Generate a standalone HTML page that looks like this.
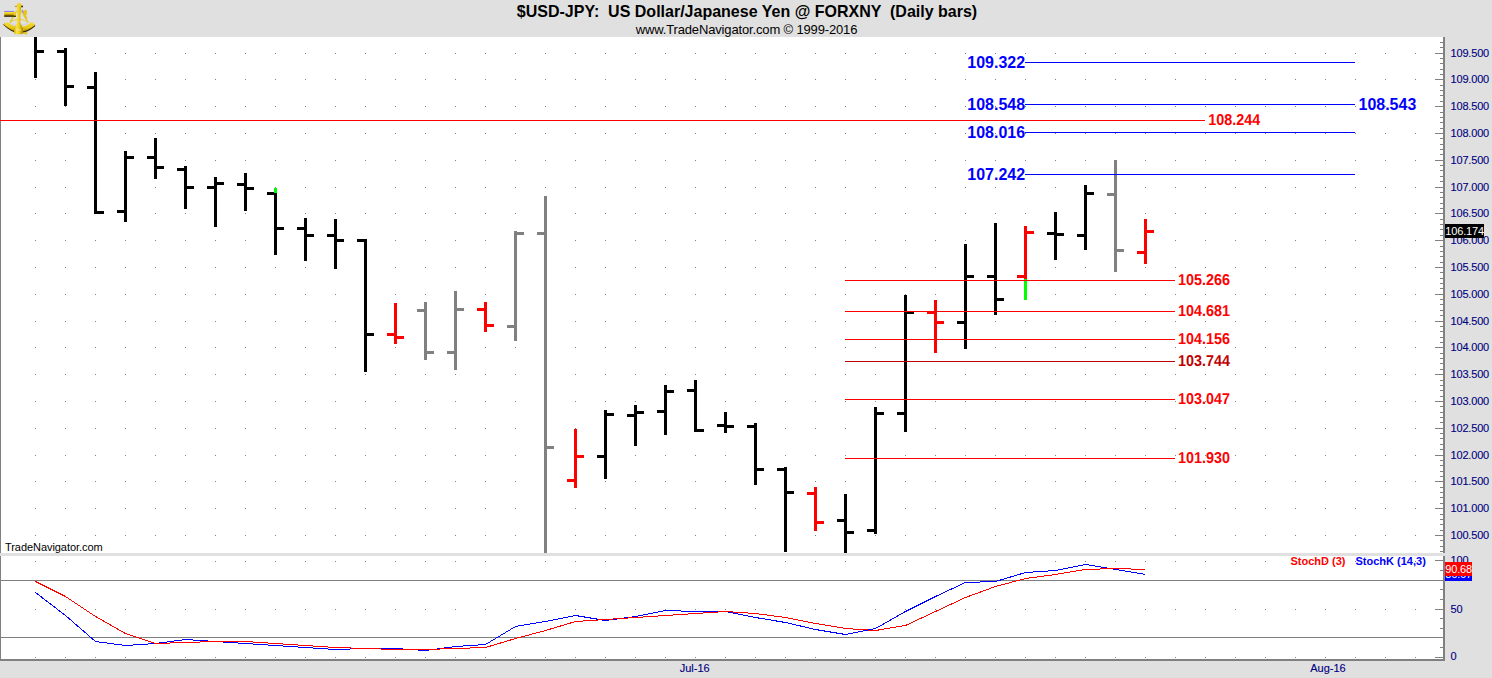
<!DOCTYPE html>
<html><head><meta charset="utf-8"><title>$USD-JPY Daily</title>
<style>
html,body{margin:0;padding:0;background:#e0e0e0;overflow:hidden;}
body{width:1492px;height:678px;position:relative;}
svg{position:absolute;left:0;top:0;display:block;}
svg text{font-family:"Liberation Sans",sans-serif;}
</style></head><body>
<svg width="1492" height="678" viewBox="0 0 1492 678" shape-rendering="crispEdges">
<rect x="0" y="0" width="1492" height="678" fill="#e0e0e0"/>
<rect x="0" y="37" width="1443" height="622" fill="#ffffff"/>
<rect x="0" y="37" width="1" height="622" fill="#808080"/>
<text x="1025.1" y="68" font-size="16.5" fill="#0000ff" text-anchor="end" textLength="57.8" lengthAdjust="spacingAndGlyphs" font-weight="bold" xml:space="preserve">109.322</text>
<text x="1025.1" y="110" font-size="16.5" fill="#0000ff" text-anchor="end" textLength="57.8" lengthAdjust="spacingAndGlyphs" font-weight="bold" xml:space="preserve">108.548</text>
<text x="1025.1" y="138" font-size="16.5" fill="#0000ff" text-anchor="end" textLength="57.8" lengthAdjust="spacingAndGlyphs" font-weight="bold" xml:space="preserve">108.016</text>
<text x="1025.1" y="180" font-size="16.5" fill="#0000ff" text-anchor="end" textLength="57.8" lengthAdjust="spacingAndGlyphs" font-weight="bold" xml:space="preserve">107.242</text>
<text x="1358.5" y="110" font-size="16.5" fill="#0000ff" textLength="57.8" lengthAdjust="spacingAndGlyphs" font-weight="bold" xml:space="preserve">108.543</text>
<text x="1208.3" y="125" font-size="15.8" fill="#ff0000" textLength="52" lengthAdjust="spacingAndGlyphs" text-rendering="geometricPrecision" font-weight="bold" xml:space="preserve">108.244</text>
<text x="1178.0" y="285" font-size="15.8" fill="#ff0000" textLength="52" lengthAdjust="spacingAndGlyphs" text-rendering="geometricPrecision" font-weight="bold" xml:space="preserve">105.266</text>
<text x="1178.0" y="316" font-size="15.8" fill="#ff0000" textLength="52" lengthAdjust="spacingAndGlyphs" text-rendering="geometricPrecision" font-weight="bold" xml:space="preserve">104.681</text>
<text x="1178.0" y="344" font-size="15.8" fill="#ff0000" textLength="52" lengthAdjust="spacingAndGlyphs" text-rendering="geometricPrecision" font-weight="bold" xml:space="preserve">104.156</text>
<text x="1178.0" y="366" font-size="15.8" fill="#c00000" textLength="52" lengthAdjust="spacingAndGlyphs" text-rendering="geometricPrecision" font-weight="bold" xml:space="preserve">103.744</text>
<text x="1178.0" y="404" font-size="15.8" fill="#ff0000" textLength="52" lengthAdjust="spacingAndGlyphs" text-rendering="geometricPrecision" font-weight="bold" xml:space="preserve">103.047</text>
<text x="1178.0" y="463" font-size="15.8" fill="#ff0000" textLength="52" lengthAdjust="spacingAndGlyphs" text-rendering="geometricPrecision" font-weight="bold" xml:space="preserve">101.930</text>
<path d="M35 53h1v1h-1zM35 79h1v1h-1zM35 106h1v1h-1zM35 133h1v1h-1zM35 160h1v1h-1zM35 187h1v1h-1zM35 213h1v1h-1zM35 240h1v1h-1zM35 267h1v1h-1zM35 294h1v1h-1zM35 321h1v1h-1zM35 347h1v1h-1zM35 374h1v1h-1zM35 401h1v1h-1zM35 428h1v1h-1zM35 455h1v1h-1zM35 481h1v1h-1zM35 508h1v1h-1zM35 535h1v1h-1zM35 561h1v1h-1zM35 609h1v1h-1zM35 657h1v1h-1zM65 53h1v1h-1zM65 79h1v1h-1zM65 106h1v1h-1zM65 133h1v1h-1zM65 160h1v1h-1zM65 187h1v1h-1zM65 213h1v1h-1zM65 240h1v1h-1zM65 267h1v1h-1zM65 294h1v1h-1zM65 321h1v1h-1zM65 347h1v1h-1zM65 374h1v1h-1zM65 401h1v1h-1zM65 428h1v1h-1zM65 455h1v1h-1zM65 481h1v1h-1zM65 508h1v1h-1zM65 535h1v1h-1zM65 561h1v1h-1zM65 609h1v1h-1zM65 657h1v1h-1zM95 53h1v1h-1zM95 79h1v1h-1zM95 106h1v1h-1zM95 133h1v1h-1zM95 160h1v1h-1zM95 187h1v1h-1zM95 213h1v1h-1zM95 240h1v1h-1zM95 267h1v1h-1zM95 294h1v1h-1zM95 321h1v1h-1zM95 347h1v1h-1zM95 374h1v1h-1zM95 401h1v1h-1zM95 428h1v1h-1zM95 455h1v1h-1zM95 481h1v1h-1zM95 508h1v1h-1zM95 535h1v1h-1zM95 561h1v1h-1zM95 609h1v1h-1zM95 657h1v1h-1zM125 53h1v1h-1zM125 79h1v1h-1zM125 106h1v1h-1zM125 133h1v1h-1zM125 160h1v1h-1zM125 187h1v1h-1zM125 213h1v1h-1zM125 240h1v1h-1zM125 267h1v1h-1zM125 294h1v1h-1zM125 321h1v1h-1zM125 347h1v1h-1zM125 374h1v1h-1zM125 401h1v1h-1zM125 428h1v1h-1zM125 455h1v1h-1zM125 481h1v1h-1zM125 508h1v1h-1zM125 535h1v1h-1zM125 561h1v1h-1zM125 609h1v1h-1zM125 657h1v1h-1zM155 53h1v1h-1zM155 79h1v1h-1zM155 106h1v1h-1zM155 133h1v1h-1zM155 160h1v1h-1zM155 187h1v1h-1zM155 213h1v1h-1zM155 240h1v1h-1zM155 267h1v1h-1zM155 294h1v1h-1zM155 321h1v1h-1zM155 347h1v1h-1zM155 374h1v1h-1zM155 401h1v1h-1zM155 428h1v1h-1zM155 455h1v1h-1zM155 481h1v1h-1zM155 508h1v1h-1zM155 535h1v1h-1zM155 561h1v1h-1zM155 609h1v1h-1zM155 657h1v1h-1zM185 53h1v1h-1zM185 79h1v1h-1zM185 106h1v1h-1zM185 133h1v1h-1zM185 160h1v1h-1zM185 187h1v1h-1zM185 213h1v1h-1zM185 240h1v1h-1zM185 267h1v1h-1zM185 294h1v1h-1zM185 321h1v1h-1zM185 347h1v1h-1zM185 374h1v1h-1zM185 401h1v1h-1zM185 428h1v1h-1zM185 455h1v1h-1zM185 481h1v1h-1zM185 508h1v1h-1zM185 535h1v1h-1zM185 561h1v1h-1zM185 609h1v1h-1zM185 657h1v1h-1zM215 53h1v1h-1zM215 79h1v1h-1zM215 106h1v1h-1zM215 133h1v1h-1zM215 160h1v1h-1zM215 187h1v1h-1zM215 213h1v1h-1zM215 240h1v1h-1zM215 267h1v1h-1zM215 294h1v1h-1zM215 321h1v1h-1zM215 347h1v1h-1zM215 374h1v1h-1zM215 401h1v1h-1zM215 428h1v1h-1zM215 455h1v1h-1zM215 481h1v1h-1zM215 508h1v1h-1zM215 535h1v1h-1zM215 561h1v1h-1zM215 609h1v1h-1zM215 657h1v1h-1zM245 53h1v1h-1zM245 79h1v1h-1zM245 106h1v1h-1zM245 133h1v1h-1zM245 160h1v1h-1zM245 187h1v1h-1zM245 213h1v1h-1zM245 240h1v1h-1zM245 267h1v1h-1zM245 294h1v1h-1zM245 321h1v1h-1zM245 347h1v1h-1zM245 374h1v1h-1zM245 401h1v1h-1zM245 428h1v1h-1zM245 455h1v1h-1zM245 481h1v1h-1zM245 508h1v1h-1zM245 535h1v1h-1zM245 561h1v1h-1zM245 609h1v1h-1zM245 657h1v1h-1zM275 53h1v1h-1zM275 79h1v1h-1zM275 106h1v1h-1zM275 133h1v1h-1zM275 160h1v1h-1zM275 187h1v1h-1zM275 213h1v1h-1zM275 240h1v1h-1zM275 267h1v1h-1zM275 294h1v1h-1zM275 321h1v1h-1zM275 347h1v1h-1zM275 374h1v1h-1zM275 401h1v1h-1zM275 428h1v1h-1zM275 455h1v1h-1zM275 481h1v1h-1zM275 508h1v1h-1zM275 535h1v1h-1zM275 561h1v1h-1zM275 609h1v1h-1zM275 657h1v1h-1zM305 53h1v1h-1zM305 79h1v1h-1zM305 106h1v1h-1zM305 133h1v1h-1zM305 160h1v1h-1zM305 187h1v1h-1zM305 213h1v1h-1zM305 240h1v1h-1zM305 267h1v1h-1zM305 294h1v1h-1zM305 321h1v1h-1zM305 347h1v1h-1zM305 374h1v1h-1zM305 401h1v1h-1zM305 428h1v1h-1zM305 455h1v1h-1zM305 481h1v1h-1zM305 508h1v1h-1zM305 535h1v1h-1zM305 561h1v1h-1zM305 609h1v1h-1zM305 657h1v1h-1zM335 53h1v1h-1zM335 79h1v1h-1zM335 106h1v1h-1zM335 133h1v1h-1zM335 160h1v1h-1zM335 187h1v1h-1zM335 213h1v1h-1zM335 240h1v1h-1zM335 267h1v1h-1zM335 294h1v1h-1zM335 321h1v1h-1zM335 347h1v1h-1zM335 374h1v1h-1zM335 401h1v1h-1zM335 428h1v1h-1zM335 455h1v1h-1zM335 481h1v1h-1zM335 508h1v1h-1zM335 535h1v1h-1zM335 561h1v1h-1zM335 609h1v1h-1zM335 657h1v1h-1zM365 53h1v1h-1zM365 79h1v1h-1zM365 106h1v1h-1zM365 133h1v1h-1zM365 160h1v1h-1zM365 187h1v1h-1zM365 213h1v1h-1zM365 240h1v1h-1zM365 267h1v1h-1zM365 294h1v1h-1zM365 321h1v1h-1zM365 347h1v1h-1zM365 374h1v1h-1zM365 401h1v1h-1zM365 428h1v1h-1zM365 455h1v1h-1zM365 481h1v1h-1zM365 508h1v1h-1zM365 535h1v1h-1zM365 561h1v1h-1zM365 609h1v1h-1zM365 657h1v1h-1zM395 53h1v1h-1zM395 79h1v1h-1zM395 106h1v1h-1zM395 133h1v1h-1zM395 160h1v1h-1zM395 187h1v1h-1zM395 213h1v1h-1zM395 240h1v1h-1zM395 267h1v1h-1zM395 294h1v1h-1zM395 321h1v1h-1zM395 347h1v1h-1zM395 374h1v1h-1zM395 401h1v1h-1zM395 428h1v1h-1zM395 455h1v1h-1zM395 481h1v1h-1zM395 508h1v1h-1zM395 535h1v1h-1zM395 561h1v1h-1zM395 609h1v1h-1zM395 657h1v1h-1zM425 53h1v1h-1zM425 79h1v1h-1zM425 106h1v1h-1zM425 133h1v1h-1zM425 160h1v1h-1zM425 187h1v1h-1zM425 213h1v1h-1zM425 240h1v1h-1zM425 267h1v1h-1zM425 294h1v1h-1zM425 321h1v1h-1zM425 347h1v1h-1zM425 374h1v1h-1zM425 401h1v1h-1zM425 428h1v1h-1zM425 455h1v1h-1zM425 481h1v1h-1zM425 508h1v1h-1zM425 535h1v1h-1zM425 561h1v1h-1zM425 609h1v1h-1zM425 657h1v1h-1zM455 53h1v1h-1zM455 79h1v1h-1zM455 106h1v1h-1zM455 133h1v1h-1zM455 160h1v1h-1zM455 187h1v1h-1zM455 213h1v1h-1zM455 240h1v1h-1zM455 267h1v1h-1zM455 294h1v1h-1zM455 321h1v1h-1zM455 347h1v1h-1zM455 374h1v1h-1zM455 401h1v1h-1zM455 428h1v1h-1zM455 455h1v1h-1zM455 481h1v1h-1zM455 508h1v1h-1zM455 535h1v1h-1zM455 561h1v1h-1zM455 609h1v1h-1zM455 657h1v1h-1zM485 53h1v1h-1zM485 79h1v1h-1zM485 106h1v1h-1zM485 133h1v1h-1zM485 160h1v1h-1zM485 187h1v1h-1zM485 213h1v1h-1zM485 240h1v1h-1zM485 267h1v1h-1zM485 294h1v1h-1zM485 321h1v1h-1zM485 347h1v1h-1zM485 374h1v1h-1zM485 401h1v1h-1zM485 428h1v1h-1zM485 455h1v1h-1zM485 481h1v1h-1zM485 508h1v1h-1zM485 535h1v1h-1zM485 561h1v1h-1zM485 609h1v1h-1zM485 657h1v1h-1zM515 53h1v1h-1zM515 79h1v1h-1zM515 106h1v1h-1zM515 133h1v1h-1zM515 160h1v1h-1zM515 187h1v1h-1zM515 213h1v1h-1zM515 240h1v1h-1zM515 267h1v1h-1zM515 294h1v1h-1zM515 321h1v1h-1zM515 347h1v1h-1zM515 374h1v1h-1zM515 401h1v1h-1zM515 428h1v1h-1zM515 455h1v1h-1zM515 481h1v1h-1zM515 508h1v1h-1zM515 535h1v1h-1zM515 561h1v1h-1zM515 609h1v1h-1zM515 657h1v1h-1zM545 53h1v1h-1zM545 79h1v1h-1zM545 106h1v1h-1zM545 133h1v1h-1zM545 160h1v1h-1zM545 187h1v1h-1zM545 213h1v1h-1zM545 240h1v1h-1zM545 267h1v1h-1zM545 294h1v1h-1zM545 321h1v1h-1zM545 347h1v1h-1zM545 374h1v1h-1zM545 401h1v1h-1zM545 428h1v1h-1zM545 455h1v1h-1zM545 481h1v1h-1zM545 508h1v1h-1zM545 535h1v1h-1zM545 561h1v1h-1zM545 609h1v1h-1zM545 657h1v1h-1zM575 53h1v1h-1zM575 79h1v1h-1zM575 106h1v1h-1zM575 133h1v1h-1zM575 160h1v1h-1zM575 187h1v1h-1zM575 213h1v1h-1zM575 240h1v1h-1zM575 267h1v1h-1zM575 294h1v1h-1zM575 321h1v1h-1zM575 347h1v1h-1zM575 374h1v1h-1zM575 401h1v1h-1zM575 428h1v1h-1zM575 455h1v1h-1zM575 481h1v1h-1zM575 508h1v1h-1zM575 535h1v1h-1zM575 561h1v1h-1zM575 609h1v1h-1zM575 657h1v1h-1zM605 53h1v1h-1zM605 79h1v1h-1zM605 106h1v1h-1zM605 133h1v1h-1zM605 160h1v1h-1zM605 187h1v1h-1zM605 213h1v1h-1zM605 240h1v1h-1zM605 267h1v1h-1zM605 294h1v1h-1zM605 321h1v1h-1zM605 347h1v1h-1zM605 374h1v1h-1zM605 401h1v1h-1zM605 428h1v1h-1zM605 455h1v1h-1zM605 481h1v1h-1zM605 508h1v1h-1zM605 535h1v1h-1zM605 561h1v1h-1zM605 609h1v1h-1zM605 657h1v1h-1zM635 53h1v1h-1zM635 79h1v1h-1zM635 106h1v1h-1zM635 133h1v1h-1zM635 160h1v1h-1zM635 187h1v1h-1zM635 213h1v1h-1zM635 240h1v1h-1zM635 267h1v1h-1zM635 294h1v1h-1zM635 321h1v1h-1zM635 347h1v1h-1zM635 374h1v1h-1zM635 401h1v1h-1zM635 428h1v1h-1zM635 455h1v1h-1zM635 481h1v1h-1zM635 508h1v1h-1zM635 535h1v1h-1zM635 561h1v1h-1zM635 609h1v1h-1zM635 657h1v1h-1zM665 53h1v1h-1zM665 79h1v1h-1zM665 106h1v1h-1zM665 133h1v1h-1zM665 160h1v1h-1zM665 187h1v1h-1zM665 213h1v1h-1zM665 240h1v1h-1zM665 267h1v1h-1zM665 294h1v1h-1zM665 321h1v1h-1zM665 347h1v1h-1zM665 374h1v1h-1zM665 401h1v1h-1zM665 428h1v1h-1zM665 455h1v1h-1zM665 481h1v1h-1zM665 508h1v1h-1zM665 535h1v1h-1zM665 561h1v1h-1zM665 609h1v1h-1zM665 657h1v1h-1zM695 53h1v1h-1zM695 79h1v1h-1zM695 106h1v1h-1zM695 133h1v1h-1zM695 160h1v1h-1zM695 187h1v1h-1zM695 213h1v1h-1zM695 240h1v1h-1zM695 267h1v1h-1zM695 294h1v1h-1zM695 321h1v1h-1zM695 347h1v1h-1zM695 374h1v1h-1zM695 401h1v1h-1zM695 428h1v1h-1zM695 455h1v1h-1zM695 481h1v1h-1zM695 508h1v1h-1zM695 535h1v1h-1zM695 561h1v1h-1zM695 609h1v1h-1zM695 657h1v1h-1zM725 53h1v1h-1zM725 79h1v1h-1zM725 106h1v1h-1zM725 133h1v1h-1zM725 160h1v1h-1zM725 187h1v1h-1zM725 213h1v1h-1zM725 240h1v1h-1zM725 267h1v1h-1zM725 294h1v1h-1zM725 321h1v1h-1zM725 347h1v1h-1zM725 374h1v1h-1zM725 401h1v1h-1zM725 428h1v1h-1zM725 455h1v1h-1zM725 481h1v1h-1zM725 508h1v1h-1zM725 535h1v1h-1zM725 561h1v1h-1zM725 609h1v1h-1zM725 657h1v1h-1zM755 53h1v1h-1zM755 79h1v1h-1zM755 106h1v1h-1zM755 133h1v1h-1zM755 160h1v1h-1zM755 187h1v1h-1zM755 213h1v1h-1zM755 240h1v1h-1zM755 267h1v1h-1zM755 294h1v1h-1zM755 321h1v1h-1zM755 347h1v1h-1zM755 374h1v1h-1zM755 401h1v1h-1zM755 428h1v1h-1zM755 455h1v1h-1zM755 481h1v1h-1zM755 508h1v1h-1zM755 535h1v1h-1zM755 561h1v1h-1zM755 609h1v1h-1zM755 657h1v1h-1zM785 53h1v1h-1zM785 79h1v1h-1zM785 106h1v1h-1zM785 133h1v1h-1zM785 160h1v1h-1zM785 187h1v1h-1zM785 213h1v1h-1zM785 240h1v1h-1zM785 267h1v1h-1zM785 294h1v1h-1zM785 321h1v1h-1zM785 347h1v1h-1zM785 374h1v1h-1zM785 401h1v1h-1zM785 428h1v1h-1zM785 455h1v1h-1zM785 481h1v1h-1zM785 508h1v1h-1zM785 535h1v1h-1zM785 561h1v1h-1zM785 609h1v1h-1zM785 657h1v1h-1zM815 53h1v1h-1zM815 79h1v1h-1zM815 106h1v1h-1zM815 133h1v1h-1zM815 160h1v1h-1zM815 187h1v1h-1zM815 213h1v1h-1zM815 240h1v1h-1zM815 267h1v1h-1zM815 294h1v1h-1zM815 321h1v1h-1zM815 347h1v1h-1zM815 374h1v1h-1zM815 401h1v1h-1zM815 428h1v1h-1zM815 455h1v1h-1zM815 481h1v1h-1zM815 508h1v1h-1zM815 535h1v1h-1zM815 561h1v1h-1zM815 609h1v1h-1zM815 657h1v1h-1zM845 53h1v1h-1zM845 79h1v1h-1zM845 106h1v1h-1zM845 133h1v1h-1zM845 160h1v1h-1zM845 187h1v1h-1zM845 213h1v1h-1zM845 240h1v1h-1zM845 267h1v1h-1zM845 294h1v1h-1zM845 321h1v1h-1zM845 347h1v1h-1zM845 374h1v1h-1zM845 401h1v1h-1zM845 428h1v1h-1zM845 455h1v1h-1zM845 481h1v1h-1zM845 508h1v1h-1zM845 535h1v1h-1zM845 561h1v1h-1zM845 609h1v1h-1zM845 657h1v1h-1zM875 53h1v1h-1zM875 79h1v1h-1zM875 106h1v1h-1zM875 133h1v1h-1zM875 160h1v1h-1zM875 187h1v1h-1zM875 213h1v1h-1zM875 240h1v1h-1zM875 267h1v1h-1zM875 294h1v1h-1zM875 321h1v1h-1zM875 347h1v1h-1zM875 374h1v1h-1zM875 401h1v1h-1zM875 428h1v1h-1zM875 455h1v1h-1zM875 481h1v1h-1zM875 508h1v1h-1zM875 535h1v1h-1zM875 561h1v1h-1zM875 609h1v1h-1zM875 657h1v1h-1zM905 53h1v1h-1zM905 79h1v1h-1zM905 106h1v1h-1zM905 133h1v1h-1zM905 160h1v1h-1zM905 187h1v1h-1zM905 213h1v1h-1zM905 240h1v1h-1zM905 267h1v1h-1zM905 294h1v1h-1zM905 321h1v1h-1zM905 347h1v1h-1zM905 374h1v1h-1zM905 401h1v1h-1zM905 428h1v1h-1zM905 455h1v1h-1zM905 481h1v1h-1zM905 508h1v1h-1zM905 535h1v1h-1zM905 561h1v1h-1zM905 609h1v1h-1zM905 657h1v1h-1zM935 53h1v1h-1zM935 79h1v1h-1zM935 106h1v1h-1zM935 133h1v1h-1zM935 160h1v1h-1zM935 187h1v1h-1zM935 213h1v1h-1zM935 240h1v1h-1zM935 267h1v1h-1zM935 294h1v1h-1zM935 321h1v1h-1zM935 347h1v1h-1zM935 374h1v1h-1zM935 401h1v1h-1zM935 428h1v1h-1zM935 455h1v1h-1zM935 481h1v1h-1zM935 508h1v1h-1zM935 535h1v1h-1zM935 561h1v1h-1zM935 609h1v1h-1zM935 657h1v1h-1zM965 53h1v1h-1zM965 79h1v1h-1zM965 106h1v1h-1zM965 133h1v1h-1zM965 160h1v1h-1zM965 187h1v1h-1zM965 213h1v1h-1zM965 240h1v1h-1zM965 267h1v1h-1zM965 294h1v1h-1zM965 321h1v1h-1zM965 347h1v1h-1zM965 374h1v1h-1zM965 401h1v1h-1zM965 428h1v1h-1zM965 455h1v1h-1zM965 481h1v1h-1zM965 508h1v1h-1zM965 535h1v1h-1zM965 561h1v1h-1zM965 609h1v1h-1zM965 657h1v1h-1zM995 53h1v1h-1zM995 79h1v1h-1zM995 106h1v1h-1zM995 133h1v1h-1zM995 160h1v1h-1zM995 187h1v1h-1zM995 213h1v1h-1zM995 240h1v1h-1zM995 267h1v1h-1zM995 294h1v1h-1zM995 321h1v1h-1zM995 347h1v1h-1zM995 374h1v1h-1zM995 401h1v1h-1zM995 428h1v1h-1zM995 455h1v1h-1zM995 481h1v1h-1zM995 508h1v1h-1zM995 535h1v1h-1zM995 561h1v1h-1zM995 609h1v1h-1zM995 657h1v1h-1zM1025 53h1v1h-1zM1025 79h1v1h-1zM1025 106h1v1h-1zM1025 133h1v1h-1zM1025 160h1v1h-1zM1025 187h1v1h-1zM1025 213h1v1h-1zM1025 240h1v1h-1zM1025 267h1v1h-1zM1025 294h1v1h-1zM1025 321h1v1h-1zM1025 347h1v1h-1zM1025 374h1v1h-1zM1025 401h1v1h-1zM1025 428h1v1h-1zM1025 455h1v1h-1zM1025 481h1v1h-1zM1025 508h1v1h-1zM1025 535h1v1h-1zM1025 561h1v1h-1zM1025 609h1v1h-1zM1025 657h1v1h-1zM1055 53h1v1h-1zM1055 79h1v1h-1zM1055 106h1v1h-1zM1055 133h1v1h-1zM1055 160h1v1h-1zM1055 187h1v1h-1zM1055 213h1v1h-1zM1055 240h1v1h-1zM1055 267h1v1h-1zM1055 294h1v1h-1zM1055 321h1v1h-1zM1055 347h1v1h-1zM1055 374h1v1h-1zM1055 401h1v1h-1zM1055 428h1v1h-1zM1055 455h1v1h-1zM1055 481h1v1h-1zM1055 508h1v1h-1zM1055 535h1v1h-1zM1055 561h1v1h-1zM1055 609h1v1h-1zM1055 657h1v1h-1zM1085 53h1v1h-1zM1085 79h1v1h-1zM1085 106h1v1h-1zM1085 133h1v1h-1zM1085 160h1v1h-1zM1085 187h1v1h-1zM1085 213h1v1h-1zM1085 240h1v1h-1zM1085 267h1v1h-1zM1085 294h1v1h-1zM1085 321h1v1h-1zM1085 347h1v1h-1zM1085 374h1v1h-1zM1085 401h1v1h-1zM1085 428h1v1h-1zM1085 455h1v1h-1zM1085 481h1v1h-1zM1085 508h1v1h-1zM1085 535h1v1h-1zM1085 561h1v1h-1zM1085 609h1v1h-1zM1085 657h1v1h-1zM1115 53h1v1h-1zM1115 79h1v1h-1zM1115 106h1v1h-1zM1115 133h1v1h-1zM1115 160h1v1h-1zM1115 187h1v1h-1zM1115 213h1v1h-1zM1115 240h1v1h-1zM1115 267h1v1h-1zM1115 294h1v1h-1zM1115 321h1v1h-1zM1115 347h1v1h-1zM1115 374h1v1h-1zM1115 401h1v1h-1zM1115 428h1v1h-1zM1115 455h1v1h-1zM1115 481h1v1h-1zM1115 508h1v1h-1zM1115 535h1v1h-1zM1115 561h1v1h-1zM1115 609h1v1h-1zM1115 657h1v1h-1zM1145 53h1v1h-1zM1145 79h1v1h-1zM1145 106h1v1h-1zM1145 133h1v1h-1zM1145 160h1v1h-1zM1145 187h1v1h-1zM1145 213h1v1h-1zM1145 240h1v1h-1zM1145 267h1v1h-1zM1145 294h1v1h-1zM1145 321h1v1h-1zM1145 347h1v1h-1zM1145 374h1v1h-1zM1145 401h1v1h-1zM1145 428h1v1h-1zM1145 455h1v1h-1zM1145 481h1v1h-1zM1145 508h1v1h-1zM1145 535h1v1h-1zM1145 561h1v1h-1zM1145 609h1v1h-1zM1145 657h1v1h-1zM1175 53h1v1h-1zM1175 79h1v1h-1zM1175 106h1v1h-1zM1175 133h1v1h-1zM1175 160h1v1h-1zM1175 187h1v1h-1zM1175 213h1v1h-1zM1175 240h1v1h-1zM1175 267h1v1h-1zM1175 294h1v1h-1zM1175 321h1v1h-1zM1175 347h1v1h-1zM1175 374h1v1h-1zM1175 401h1v1h-1zM1175 428h1v1h-1zM1175 455h1v1h-1zM1175 481h1v1h-1zM1175 508h1v1h-1zM1175 535h1v1h-1zM1175 561h1v1h-1zM1175 609h1v1h-1zM1175 657h1v1h-1zM1205 53h1v1h-1zM1205 79h1v1h-1zM1205 106h1v1h-1zM1205 133h1v1h-1zM1205 160h1v1h-1zM1205 187h1v1h-1zM1205 213h1v1h-1zM1205 240h1v1h-1zM1205 267h1v1h-1zM1205 294h1v1h-1zM1205 321h1v1h-1zM1205 347h1v1h-1zM1205 374h1v1h-1zM1205 401h1v1h-1zM1205 428h1v1h-1zM1205 455h1v1h-1zM1205 481h1v1h-1zM1205 508h1v1h-1zM1205 535h1v1h-1zM1205 561h1v1h-1zM1205 609h1v1h-1zM1205 657h1v1h-1zM1235 53h1v1h-1zM1235 79h1v1h-1zM1235 106h1v1h-1zM1235 133h1v1h-1zM1235 160h1v1h-1zM1235 187h1v1h-1zM1235 213h1v1h-1zM1235 240h1v1h-1zM1235 267h1v1h-1zM1235 294h1v1h-1zM1235 321h1v1h-1zM1235 347h1v1h-1zM1235 374h1v1h-1zM1235 401h1v1h-1zM1235 428h1v1h-1zM1235 455h1v1h-1zM1235 481h1v1h-1zM1235 508h1v1h-1zM1235 535h1v1h-1zM1235 561h1v1h-1zM1235 609h1v1h-1zM1235 657h1v1h-1zM1265 53h1v1h-1zM1265 79h1v1h-1zM1265 106h1v1h-1zM1265 133h1v1h-1zM1265 160h1v1h-1zM1265 187h1v1h-1zM1265 213h1v1h-1zM1265 240h1v1h-1zM1265 267h1v1h-1zM1265 294h1v1h-1zM1265 321h1v1h-1zM1265 347h1v1h-1zM1265 374h1v1h-1zM1265 401h1v1h-1zM1265 428h1v1h-1zM1265 455h1v1h-1zM1265 481h1v1h-1zM1265 508h1v1h-1zM1265 535h1v1h-1zM1265 561h1v1h-1zM1265 609h1v1h-1zM1265 657h1v1h-1zM1295 53h1v1h-1zM1295 79h1v1h-1zM1295 106h1v1h-1zM1295 133h1v1h-1zM1295 160h1v1h-1zM1295 187h1v1h-1zM1295 213h1v1h-1zM1295 240h1v1h-1zM1295 267h1v1h-1zM1295 294h1v1h-1zM1295 321h1v1h-1zM1295 347h1v1h-1zM1295 374h1v1h-1zM1295 401h1v1h-1zM1295 428h1v1h-1zM1295 455h1v1h-1zM1295 481h1v1h-1zM1295 508h1v1h-1zM1295 535h1v1h-1zM1295 561h1v1h-1zM1295 609h1v1h-1zM1295 657h1v1h-1zM1325 53h1v1h-1zM1325 79h1v1h-1zM1325 106h1v1h-1zM1325 133h1v1h-1zM1325 160h1v1h-1zM1325 187h1v1h-1zM1325 213h1v1h-1zM1325 240h1v1h-1zM1325 267h1v1h-1zM1325 294h1v1h-1zM1325 321h1v1h-1zM1325 347h1v1h-1zM1325 374h1v1h-1zM1325 401h1v1h-1zM1325 428h1v1h-1zM1325 455h1v1h-1zM1325 481h1v1h-1zM1325 508h1v1h-1zM1325 535h1v1h-1zM1325 561h1v1h-1zM1325 609h1v1h-1zM1325 657h1v1h-1zM1355 53h1v1h-1zM1355 79h1v1h-1zM1355 106h1v1h-1zM1355 133h1v1h-1zM1355 160h1v1h-1zM1355 187h1v1h-1zM1355 213h1v1h-1zM1355 240h1v1h-1zM1355 267h1v1h-1zM1355 294h1v1h-1zM1355 321h1v1h-1zM1355 347h1v1h-1zM1355 374h1v1h-1zM1355 401h1v1h-1zM1355 428h1v1h-1zM1355 455h1v1h-1zM1355 481h1v1h-1zM1355 508h1v1h-1zM1355 535h1v1h-1zM1355 561h1v1h-1zM1355 609h1v1h-1zM1355 657h1v1h-1zM1385 53h1v1h-1zM1385 79h1v1h-1zM1385 106h1v1h-1zM1385 133h1v1h-1zM1385 160h1v1h-1zM1385 187h1v1h-1zM1385 213h1v1h-1zM1385 240h1v1h-1zM1385 267h1v1h-1zM1385 294h1v1h-1zM1385 321h1v1h-1zM1385 347h1v1h-1zM1385 374h1v1h-1zM1385 401h1v1h-1zM1385 428h1v1h-1zM1385 455h1v1h-1zM1385 481h1v1h-1zM1385 508h1v1h-1zM1385 535h1v1h-1zM1385 561h1v1h-1zM1385 609h1v1h-1zM1385 657h1v1h-1zM1415 53h1v1h-1zM1415 79h1v1h-1zM1415 106h1v1h-1zM1415 133h1v1h-1zM1415 160h1v1h-1zM1415 187h1v1h-1zM1415 213h1v1h-1zM1415 240h1v1h-1zM1415 267h1v1h-1zM1415 294h1v1h-1zM1415 321h1v1h-1zM1415 347h1v1h-1zM1415 374h1v1h-1zM1415 401h1v1h-1zM1415 428h1v1h-1zM1415 455h1v1h-1zM1415 481h1v1h-1zM1415 508h1v1h-1zM1415 535h1v1h-1zM1415 561h1v1h-1zM1415 609h1v1h-1zM1415 657h1v1h-1z" fill="#808080"/>
<rect x="34" y="37" width="3" height="41" fill="#000000"/>
<rect x="37" y="50" width="7" height="3" fill="#000000"/>
<rect x="64" y="48" width="3" height="58" fill="#000000"/>
<rect x="57" y="50" width="7" height="3" fill="#000000"/>
<rect x="67" y="85" width="7" height="3" fill="#000000"/>
<rect x="94" y="72" width="3" height="142" fill="#000000"/>
<rect x="87" y="86" width="7" height="3" fill="#000000"/>
<rect x="97" y="211" width="7" height="3" fill="#000000"/>
<rect x="124" y="151" width="3" height="71" fill="#000000"/>
<rect x="117" y="210" width="7" height="3" fill="#000000"/>
<rect x="127" y="156" width="7" height="3" fill="#000000"/>
<rect x="154" y="138" width="3" height="41" fill="#000000"/>
<rect x="147" y="156" width="7" height="3" fill="#000000"/>
<rect x="157" y="166" width="7" height="3" fill="#000000"/>
<rect x="184" y="166" width="3" height="43" fill="#000000"/>
<rect x="177" y="168" width="7" height="3" fill="#000000"/>
<rect x="187" y="186" width="7" height="3" fill="#000000"/>
<rect x="214" y="177" width="3" height="50" fill="#000000"/>
<rect x="207" y="186" width="7" height="3" fill="#000000"/>
<rect x="217" y="182" width="7" height="3" fill="#000000"/>
<rect x="244" y="173" width="3" height="38" fill="#000000"/>
<rect x="237" y="183" width="7" height="3" fill="#000000"/>
<rect x="247" y="187" width="7" height="3" fill="#000000"/>
<rect x="274" y="188" width="3" height="67" fill="#000000"/>
<rect x="267" y="192" width="7" height="3" fill="#000000"/>
<rect x="277" y="227" width="7" height="3" fill="#000000"/>
<rect x="304" y="218" width="3" height="43" fill="#000000"/>
<rect x="297" y="227" width="7" height="3" fill="#000000"/>
<rect x="307" y="234" width="7" height="3" fill="#000000"/>
<rect x="334" y="219" width="3" height="50" fill="#000000"/>
<rect x="327" y="234" width="7" height="3" fill="#000000"/>
<rect x="337" y="239" width="7" height="3" fill="#000000"/>
<rect x="364" y="239" width="3" height="133" fill="#000000"/>
<rect x="357" y="239" width="7" height="3" fill="#000000"/>
<rect x="367" y="333" width="7" height="3" fill="#000000"/>
<rect x="394" y="303" width="3" height="41" fill="#ff0000"/>
<rect x="387" y="333" width="7" height="3" fill="#ff0000"/>
<rect x="397" y="336" width="7" height="3" fill="#ff0000"/>
<rect x="424" y="302" width="3" height="58" fill="#808080"/>
<rect x="417" y="309" width="7" height="3" fill="#808080"/>
<rect x="427" y="351" width="7" height="3" fill="#808080"/>
<rect x="454" y="291" width="3" height="79" fill="#808080"/>
<rect x="447" y="351" width="7" height="3" fill="#808080"/>
<rect x="457" y="308" width="7" height="3" fill="#808080"/>
<rect x="484" y="302" width="3" height="30" fill="#ff0000"/>
<rect x="477" y="308" width="7" height="3" fill="#ff0000"/>
<rect x="487" y="324" width="7" height="3" fill="#ff0000"/>
<rect x="514" y="231" width="3" height="110" fill="#808080"/>
<rect x="507" y="325" width="7" height="3" fill="#808080"/>
<rect x="517" y="232" width="7" height="3" fill="#808080"/>
<rect x="544" y="196" width="3" height="357" fill="#808080"/>
<rect x="537" y="232" width="7" height="3" fill="#808080"/>
<rect x="547" y="446" width="7" height="3" fill="#808080"/>
<rect x="574" y="429" width="3" height="59" fill="#ff0000"/>
<rect x="567" y="479" width="7" height="3" fill="#ff0000"/>
<rect x="577" y="455" width="7" height="3" fill="#ff0000"/>
<rect x="604" y="410" width="3" height="69" fill="#000000"/>
<rect x="597" y="455" width="7" height="3" fill="#000000"/>
<rect x="607" y="413" width="7" height="3" fill="#000000"/>
<rect x="634" y="405" width="3" height="41" fill="#000000"/>
<rect x="627" y="414" width="7" height="3" fill="#000000"/>
<rect x="637" y="411" width="7" height="3" fill="#000000"/>
<rect x="664" y="385" width="3" height="50" fill="#000000"/>
<rect x="657" y="410" width="7" height="3" fill="#000000"/>
<rect x="667" y="390" width="7" height="3" fill="#000000"/>
<rect x="694" y="380" width="3" height="52" fill="#000000"/>
<rect x="687" y="389" width="7" height="3" fill="#000000"/>
<rect x="697" y="429" width="7" height="3" fill="#000000"/>
<rect x="724" y="412" width="3" height="21" fill="#000000"/>
<rect x="717" y="424" width="7" height="3" fill="#000000"/>
<rect x="727" y="425" width="7" height="3" fill="#000000"/>
<rect x="754" y="423" width="3" height="62" fill="#000000"/>
<rect x="747" y="425" width="7" height="3" fill="#000000"/>
<rect x="757" y="468" width="7" height="3" fill="#000000"/>
<rect x="784" y="467" width="3" height="85" fill="#000000"/>
<rect x="777" y="468" width="7" height="3" fill="#000000"/>
<rect x="787" y="491" width="7" height="3" fill="#000000"/>
<rect x="814" y="487" width="3" height="44" fill="#ff0000"/>
<rect x="807" y="492" width="7" height="3" fill="#ff0000"/>
<rect x="817" y="521" width="7" height="3" fill="#ff0000"/>
<rect x="844" y="494" width="3" height="59" fill="#000000"/>
<rect x="837" y="519" width="7" height="3" fill="#000000"/>
<rect x="847" y="531" width="7" height="3" fill="#000000"/>
<rect x="874" y="407" width="3" height="127" fill="#000000"/>
<rect x="867" y="529" width="7" height="3" fill="#000000"/>
<rect x="877" y="412" width="7" height="3" fill="#000000"/>
<rect x="904" y="295" width="3" height="137" fill="#000000"/>
<rect x="897" y="412" width="7" height="3" fill="#000000"/>
<rect x="907" y="311" width="7" height="3" fill="#000000"/>
<rect x="934" y="300" width="3" height="53" fill="#ff0000"/>
<rect x="927" y="311" width="7" height="3" fill="#ff0000"/>
<rect x="937" y="321" width="7" height="3" fill="#ff0000"/>
<rect x="964" y="244" width="3" height="105" fill="#000000"/>
<rect x="957" y="321" width="7" height="3" fill="#000000"/>
<rect x="967" y="275" width="7" height="3" fill="#000000"/>
<rect x="994" y="223" width="3" height="92" fill="#000000"/>
<rect x="987" y="275" width="7" height="3" fill="#000000"/>
<rect x="997" y="298" width="7" height="3" fill="#000000"/>
<rect x="1024" y="226" width="3" height="74" fill="#ff0000"/>
<rect x="1017" y="275" width="7" height="3" fill="#ff0000"/>
<rect x="1027" y="231" width="7" height="3" fill="#ff0000"/>
<rect x="1054" y="212" width="3" height="48" fill="#000000"/>
<rect x="1047" y="232" width="7" height="3" fill="#000000"/>
<rect x="1057" y="233" width="7" height="3" fill="#000000"/>
<rect x="1084" y="185" width="3" height="65" fill="#000000"/>
<rect x="1077" y="234" width="7" height="3" fill="#000000"/>
<rect x="1087" y="192" width="7" height="3" fill="#000000"/>
<rect x="1114" y="160" width="3" height="112" fill="#808080"/>
<rect x="1107" y="193" width="7" height="3" fill="#808080"/>
<rect x="1117" y="249" width="7" height="3" fill="#808080"/>
<rect x="1144" y="219" width="3" height="45" fill="#ff0000"/>
<rect x="1137" y="251" width="7" height="3" fill="#ff0000"/>
<rect x="1147" y="230" width="7" height="3" fill="#ff0000"/>
<rect x="274" y="188" width="3" height="5" fill="#00ff00"/>
<rect x="1024" y="279" width="3" height="21" fill="#00ff00"/>
<rect x="0" y="120" width="1205" height="1" fill="#ff0000"/>
<rect x="1025" y="62" width="330" height="1" fill="#0000ff"/>
<rect x="1025" y="104" width="330" height="1" fill="#0000ff"/>
<rect x="1025" y="132" width="330" height="1" fill="#0000ff"/>
<rect x="1025" y="174" width="330" height="1" fill="#0000ff"/>
<rect x="845" y="280" width="330" height="1" fill="#ff0000"/>
<rect x="845" y="311" width="330" height="1" fill="#ff0000"/>
<rect x="845" y="339" width="330" height="1" fill="#ff0000"/>
<rect x="845" y="361" width="330" height="1" fill="#c00000"/>
<rect x="845" y="399" width="330" height="1" fill="#ff0000"/>
<rect x="845" y="458" width="330" height="1" fill="#ff0000"/>
<rect x="0" y="553" width="1445" height="3" fill="#e0e0e0"/>
<rect x="0" y="580" width="1443" height="1" fill="#808080"/>
<rect x="0" y="637" width="1443" height="1" fill="#808080"/>
<polyline points="35.5,592.5 65.5,615.5 95.5,641.5 125.5,645.5 155.5,643.5 185.5,639.5 215.5,641.5 245.5,643.5 275.5,645.5 305.5,647.5 335.5,649.5 365.5,648.5 395.5,648.5 425.5,650.5 455.5,646.5 485.5,644.5 515.5,626.5 545.5,621.5 575.5,615.5 605.5,620.5 635.5,616.5 665.5,610.5 695.5,611.5 725.5,611.5 755.5,617.5 785.5,622.5 815.5,629.5 845.5,634.5 875.5,628.5 905.5,611.5 935.5,596.5 965.5,582.5 995.5,581.5 1025.5,572.5 1055.5,570.5 1085.5,564.5 1115.5,569.5 1145.5,574.5" fill="none" stroke="#0000ff" stroke-width="1"/>
<polyline points="35.5,581.5 65.5,596.5 95.5,616.5 125.5,633.5 155.5,643.5 185.5,642.5 215.5,641.5 245.5,641.5 275.5,643.5 305.5,645.5 335.5,647.5 365.5,648.5 395.5,649.5 425.5,649.5 455.5,648.5 485.5,647.5 515.5,638.5 545.5,630.5 575.5,621.5 605.5,619.5 635.5,617.5 665.5,615.5 695.5,613.5 725.5,611.5 755.5,613.5 785.5,617.5 815.5,623.5 845.5,628.5 875.5,630.5 905.5,625.5 935.5,611.5 965.5,597.5 995.5,586.5 1025.5,578.5 1055.5,574.5 1085.5,569.5 1115.5,568.5 1145.5,569.5" fill="none" stroke="#ff0000" stroke-width="1"/>
<rect x="0" y="659" width="1445" height="2" fill="#808080"/>
<rect x="1443" y="37" width="2" height="516" fill="#808080"/>
<path d="M1440 42h3v1h-3zM1440 47h3v1h-3zM1435 53h8v1h-8zM1440 58h3v1h-3zM1440 63h3v1h-3zM1440 69h3v1h-3zM1440 74h3v1h-3zM1435 79h8v1h-8zM1440 85h3v1h-3zM1440 90h3v1h-3zM1440 95h3v1h-3zM1440 101h3v1h-3zM1435 106h8v1h-8zM1440 112h3v1h-3zM1440 117h3v1h-3zM1440 122h3v1h-3zM1440 128h3v1h-3zM1435 133h8v1h-8zM1440 138h3v1h-3zM1440 144h3v1h-3zM1440 149h3v1h-3zM1440 154h3v1h-3zM1435 160h8v1h-8zM1440 165h3v1h-3zM1440 170h3v1h-3zM1440 176h3v1h-3zM1440 181h3v1h-3zM1435 187h8v1h-8zM1440 192h3v1h-3zM1440 197h3v1h-3zM1440 203h3v1h-3zM1440 208h3v1h-3zM1435 213h8v1h-8zM1440 219h3v1h-3zM1440 224h3v1h-3zM1440 229h3v1h-3zM1440 235h3v1h-3zM1435 240h8v1h-8zM1440 246h3v1h-3zM1440 251h3v1h-3zM1440 256h3v1h-3zM1440 262h3v1h-3zM1435 267h8v1h-8zM1440 272h3v1h-3zM1440 278h3v1h-3zM1440 283h3v1h-3zM1440 288h3v1h-3zM1435 294h8v1h-8zM1440 299h3v1h-3zM1440 304h3v1h-3zM1440 310h3v1h-3zM1440 315h3v1h-3zM1435 321h8v1h-8zM1440 326h3v1h-3zM1440 331h3v1h-3zM1440 337h3v1h-3zM1440 342h3v1h-3zM1435 347h8v1h-8zM1440 353h3v1h-3zM1440 358h3v1h-3zM1440 363h3v1h-3zM1440 369h3v1h-3zM1435 374h8v1h-8zM1440 380h3v1h-3zM1440 385h3v1h-3zM1440 390h3v1h-3zM1440 396h3v1h-3zM1435 401h8v1h-8zM1440 406h3v1h-3zM1440 412h3v1h-3zM1440 417h3v1h-3zM1440 422h3v1h-3zM1435 428h8v1h-8zM1440 433h3v1h-3zM1440 438h3v1h-3zM1440 444h3v1h-3zM1440 449h3v1h-3zM1435 455h8v1h-8zM1440 460h3v1h-3zM1440 465h3v1h-3zM1440 471h3v1h-3zM1440 476h3v1h-3zM1435 481h8v1h-8zM1440 487h3v1h-3zM1440 492h3v1h-3zM1440 497h3v1h-3zM1440 503h3v1h-3zM1435 508h8v1h-8zM1440 514h3v1h-3zM1440 519h3v1h-3zM1440 524h3v1h-3zM1440 530h3v1h-3zM1435 535h8v1h-8zM1440 540h3v1h-3zM1440 546h3v1h-3zM1440 551h3v1h-3z" fill="#808080"/>
<rect x="1443" y="556" width="2" height="104" fill="#808080"/>
<path d="M1435 657h8v1h-8zM1440 647h3v1h-3zM1440 637h3v1h-3zM1440 628h3v1h-3zM1440 618h3v1h-3zM1435 609h8v1h-8zM1440 599h3v1h-3zM1440 589h3v1h-3zM1440 580h3v1h-3zM1440 570h3v1h-3zM1435 560h8v1h-8z" fill="#808080"/>
<text x="1450.5" y="57" font-size="11" fill="#000080" stroke="#000080" stroke-width="0.12" letter-spacing="-0.17" xml:space="preserve">109.500</text>
<text x="1450.5" y="83" font-size="11" fill="#000080" stroke="#000080" stroke-width="0.12" letter-spacing="-0.17" xml:space="preserve">109.000</text>
<text x="1450.5" y="110" font-size="11" fill="#000080" stroke="#000080" stroke-width="0.12" letter-spacing="-0.17" xml:space="preserve">108.500</text>
<text x="1450.5" y="137" font-size="11" fill="#000080" stroke="#000080" stroke-width="0.12" letter-spacing="-0.17" xml:space="preserve">108.000</text>
<text x="1450.5" y="164" font-size="11" fill="#000080" stroke="#000080" stroke-width="0.12" letter-spacing="-0.17" xml:space="preserve">107.500</text>
<text x="1450.5" y="191" font-size="11" fill="#000080" stroke="#000080" stroke-width="0.12" letter-spacing="-0.17" xml:space="preserve">107.000</text>
<text x="1450.5" y="217" font-size="11" fill="#000080" stroke="#000080" stroke-width="0.12" letter-spacing="-0.17" xml:space="preserve">106.500</text>
<text x="1450.5" y="244" font-size="11" fill="#000080" stroke="#000080" stroke-width="0.12" letter-spacing="-0.17" xml:space="preserve">106.000</text>
<text x="1450.5" y="271" font-size="11" fill="#000080" stroke="#000080" stroke-width="0.12" letter-spacing="-0.17" xml:space="preserve">105.500</text>
<text x="1450.5" y="298" font-size="11" fill="#000080" stroke="#000080" stroke-width="0.12" letter-spacing="-0.17" xml:space="preserve">105.000</text>
<text x="1450.5" y="325" font-size="11" fill="#000080" stroke="#000080" stroke-width="0.12" letter-spacing="-0.17" xml:space="preserve">104.500</text>
<text x="1450.5" y="351" font-size="11" fill="#000080" stroke="#000080" stroke-width="0.12" letter-spacing="-0.17" xml:space="preserve">104.000</text>
<text x="1450.5" y="378" font-size="11" fill="#000080" stroke="#000080" stroke-width="0.12" letter-spacing="-0.17" xml:space="preserve">103.500</text>
<text x="1450.5" y="405" font-size="11" fill="#000080" stroke="#000080" stroke-width="0.12" letter-spacing="-0.17" xml:space="preserve">103.000</text>
<text x="1450.5" y="432" font-size="11" fill="#000080" stroke="#000080" stroke-width="0.12" letter-spacing="-0.17" xml:space="preserve">102.500</text>
<text x="1450.5" y="459" font-size="11" fill="#000080" stroke="#000080" stroke-width="0.12" letter-spacing="-0.17" xml:space="preserve">102.000</text>
<text x="1450.5" y="485" font-size="11" fill="#000080" stroke="#000080" stroke-width="0.12" letter-spacing="-0.17" xml:space="preserve">101.500</text>
<text x="1450.5" y="512" font-size="11" fill="#000080" stroke="#000080" stroke-width="0.12" letter-spacing="-0.17" xml:space="preserve">101.000</text>
<text x="1450.5" y="539" font-size="11" fill="#000080" stroke="#000080" stroke-width="0.12" letter-spacing="-0.17" xml:space="preserve">100.500</text>
<text x="1450.5" y="564" font-size="11" fill="#000080" stroke="#000080" stroke-width="0.12" letter-spacing="-0.17" xml:space="preserve">100</text>
<text x="1450.5" y="613" font-size="11" fill="#000080" stroke="#000080" stroke-width="0.12" letter-spacing="-0.17" xml:space="preserve">50</text>
<text x="1450.5" y="660" font-size="11" fill="#000080" stroke="#000080" stroke-width="0.12" letter-spacing="-0.17" xml:space="preserve">0</text>
<rect x="1445" y="224" width="39" height="14" fill="#000000"/>
<text x="1445.3" y="235" font-size="11" fill="#ffffff" letter-spacing="-0.17" xml:space="preserve">106.174</text>
<rect x="1445" y="567" width="27" height="14" fill="#0000ff"/>
<text x="1445.3" y="578" font-size="11" fill="#ffffff" letter-spacing="-0.17" xml:space="preserve">86.67</text>
<rect x="1445" y="562" width="27" height="14" fill="#ff0000"/>
<text x="1445.3" y="573" font-size="11" fill="#ffffff" letter-spacing="-0.17" xml:space="preserve">90.68</text>
<text x="747" y="17" font-size="16.6" fill="#000000" text-anchor="middle" textLength="460.4" lengthAdjust="spacingAndGlyphs" font-weight="bold" xml:space="preserve">$USD-JPY:  US Dollar/Japanese Yen @ FORXNY  (Daily bars)</text>
<text x="746.5" y="33.5" font-size="13" fill="#000000" text-anchor="middle" letter-spacing="-0.15" xml:space="preserve">www.TradeNavigator.com © 1999-2016</text>
<text x="1290.5" y="565" font-size="11" fill="#ff0000" font-weight="bold" xml:space="preserve">StochD (3)</text>
<text x="1355.5" y="565" font-size="11" fill="#0000ff" font-weight="bold" xml:space="preserve">StochK (14,3)</text>
<text x="5" y="551" font-size="11" fill="#000000" letter-spacing="-0.06" xml:space="preserve">TradeNavigator.com</text>
<text x="694.7" y="672" font-size="11" fill="#000080" text-anchor="middle" stroke="#000080" stroke-width="0.12" xml:space="preserve">Jul-16</text>
<text x="1328" y="672" font-size="11" fill="#000080" text-anchor="middle" stroke="#000080" stroke-width="0.12" xml:space="preserve">Aug-16</text>
<defs>
<linearGradient id="gv" x1="0" y1="0" x2="1" y2="0"><stop offset="0" stop-color="#d4ae04"/><stop offset="0.3" stop-color="#f8e24e"/><stop offset="0.6" stop-color="#eccb18"/><stop offset="1" stop-color="#a88600"/></linearGradient>
<linearGradient id="gt" x1="0" y1="0" x2="0" y2="1"><stop offset="0" stop-color="#8a80f0"/><stop offset="0.16" stop-color="#8a80f0"/><stop offset="0.2" stop-color="#f8e040"/><stop offset="0.55" stop-color="#e2be12"/><stop offset="0.74" stop-color="#7a5e00"/><stop offset="1" stop-color="#141000"/></linearGradient>
<linearGradient id="ga" x1="0" y1="0" x2="0" y2="1"><stop offset="0" stop-color="#f7df40"/><stop offset="0.6" stop-color="#e8c718"/><stop offset="1" stop-color="#b08c00"/></linearGradient>
</defs>
<g shape-rendering="geometricPrecision">
<!-- arc shadow -->
<path d="M3.1 24.4 Q19 41 35.4 26 L34.2 24.6 Q19 38 4.6 23.4 Z" fill="#3a2c00"/>
<!-- arc band -->
<path d="M3.4 24 L7.7 21.9 Q19 32.2 32 21.8 L35 25.1 Q19 39 3.4 24 Z" fill="url(#ga)"/>
<!-- frame legs -->
<path d="M16.7 10.8 L10 22.6 M21.3 10.8 L28.2 22.8" stroke="#e4c21c" stroke-width="1.3" fill="none"/>
<path d="M11.2 21.6 Q19 17.4 26.8 21.2" stroke="#ecd03a" stroke-width="1" fill="none"/>
<path d="M10.5 23.4 Q19 27.6 27.6 23.4" stroke="#c8c0f0" stroke-width="0.8" fill="none" opacity="0.8"/>
<!-- mirror on right -->
<path d="M23.4 10.4 L26.6 9.8 L27.1 13.5 L26 15.2 L27.5 18.4 L25.6 18.9 L23.6 13.8 Z" fill="#e6c418"/>
<path d="M22.2 9.8 L23.5 13" stroke="#8a80e8" stroke-width="1"/>
<!-- telescope -->
<rect x="4.2" y="10.9" width="9.8" height="5.9" fill="url(#gt)"/>
<rect x="13.7" y="11.8" width="2.2" height="5" fill="#eaca1e"/>
<rect x="13.7" y="15.6" width="2.2" height="1.3" fill="#2c2200"/>
<!-- index arm -->
<path d="M16.8 6 L21.4 6 L20.5 14 L20.4 22.5 L22.9 28.2 L23 33.4 Q19 35.2 14 33.4 L14.2 28.2 L17.1 22.5 L17.1 14 Z" fill="url(#gv)"/>
<!-- top knob -->
<path d="M16.6 6.4 L17.4 3.8 L19.3 2.8 L21.4 3.9 L22 6.4 Z" fill="#f0d22c"/>
<path d="M21.4 5.4 L23 5.7 L22.9 7.3 L21.2 7.2 Z" fill="#2e2200"/>
<path d="M14.8 5.9 L16.8 5.5 L16.8 7.2 L15 7 Z" fill="#c4a206"/>
<!-- bottom knob -->
<path d="M22.8 32.4 L26 32.2 L27.2 32.2 L27.2 34.8 L26 34.2 L22.8 33.8 Z" fill="#e8c61a"/>
<!-- highlight on arm foot -->
<rect x="15.8" y="29.4" width="5.4" height="1" fill="#f8eba0" opacity="0.85"/>
</g>

</svg>
</body></html>
